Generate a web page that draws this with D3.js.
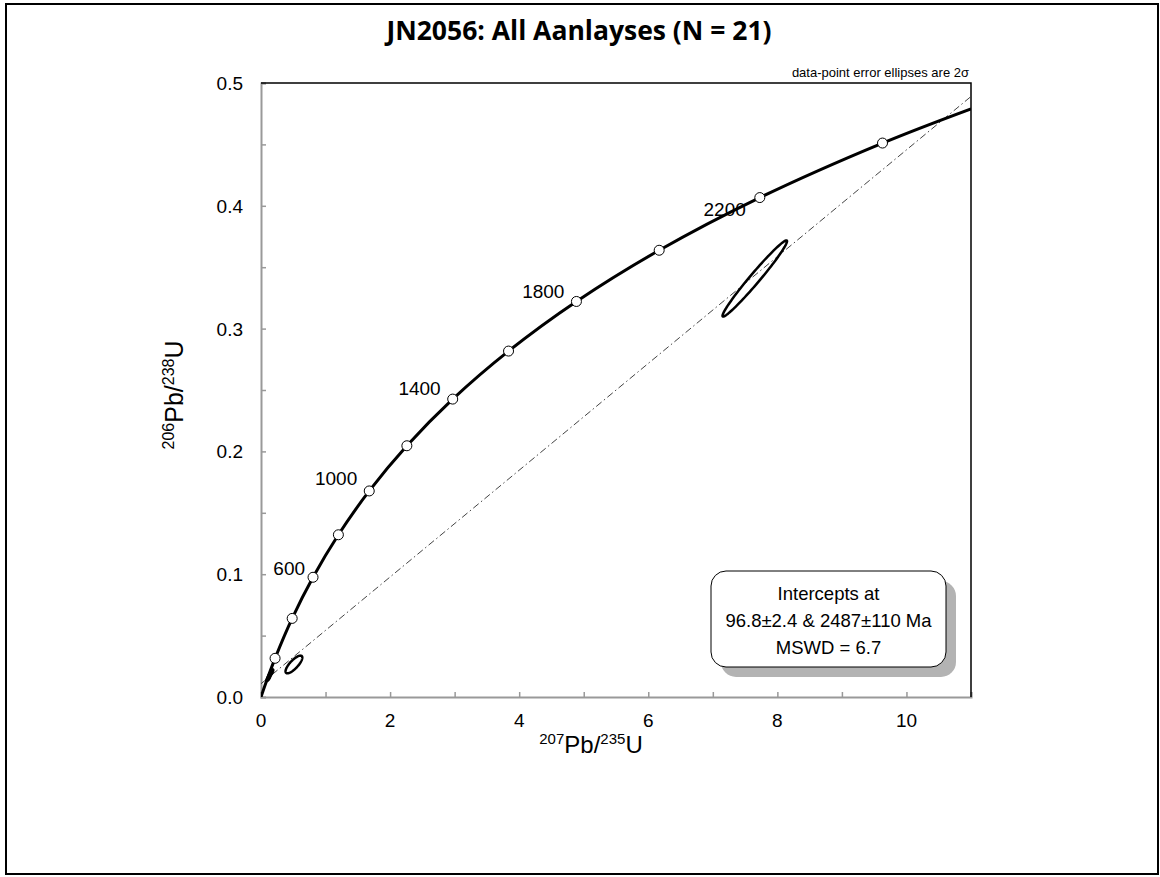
<!DOCTYPE html>
<html>
<head>
<meta charset="utf-8">
<script src="https://cdn.jsdelivr.net/npm/d3@7"></script>
<style>
  body { margin: 0; background: #fff; }
  text { font-family: "Liberation Sans", Arial, sans-serif; }
</style>
</head>
<body>
<div id="chart"></div>
<script>
// Concordia points (age in Ma, 207Pb/235U, 206Pb/238U)
const concordiaAge = [0, 100, 200, 400, 600, 800, 1000, 1200, 1400, 1600, 1800, 2000, 2200, 2400, 2523];
const concordiaX = [0, 0.104, 0.218, 0.483, 0.806, 1.199, 1.677, 2.260, 2.970, 3.835, 4.887, 6.169, 7.728, 9.629, 11.0];
const concordiaY = [0, 0.0156, 0.0315, 0.0640, 0.0975, 0.1321, 0.1678, 0.2046, 0.2426, 0.2817, 0.3221, 0.3638, 0.4067, 0.4511, 0.4790];
const markerAges = [200, 400, 600, 800, 1000, 1200, 1400, 1600, 1800, 2000, 2200, 2400];
const labelAges = [600, 1000, 1400, 1800, 2200];

// Discordia intercepts
const interceptX = [0.1000, 10.581];
const interceptY = [0.01513, 0.4708];

// Error ellipses (2 sigma)
const ellipseX = [7.65, 0.51, 0.13, 0.16, 0.11, 0.14];
const ellipseY = [0.3408, 0.0265, 0.0170, 0.0200, 0.0150, 0.0185];
const ellipseSx = [0.50, 0.13, 0.03, 0.03, 0.025, 0.02];
const ellipseSy = [0.031, 0.0072, 0.0030, 0.0025, 0.0020, 0.0020];
const ellipseRho = [0.98, 0.78, 0.80, 0.75, 0.70, 0.70];

const xTicks = [0, 1, 2, 3, 4, 5, 6, 7, 8, 9, 10, 11];
const xLabels = [0, 2, 4, 6, 8, 10];
const yTicks = [0, 0.05, 0.1, 0.15, 0.2, 0.25, 0.3, 0.35, 0.4, 0.45, 0.5];
const yLabels = [0, 0.1, 0.2, 0.3, 0.4, 0.5];

const W = 1160, H = 877;
const plot = { left: 261, right: 971, top: 83, bottom: 697 };

const svg = d3.select("#chart")
    .append("svg")
    .attr("width", W)
    .attr("height", H);

// outer frame
svg.append("rect")
    .attr("x", 6).attr("y", 4)
    .attr("width", 1152).attr("height", 870)
    .attr("fill", "#fff")
    .attr("stroke", "#000")
    .attr("stroke-width", 2);

const x = d3.scaleLinear().domain([0, 11]).range([plot.left, plot.right]);
const y = d3.scaleLinear().domain([0, 0.5]).range([plot.bottom, plot.top]);

svg.append("defs").append("clipPath")
    .attr("id", "clip")
    .append("rect")
    .attr("x", plot.left).attr("y", plot.top)
    .attr("width", plot.right - plot.left)
    .attr("height", plot.bottom - plot.top);

// title
svg.append("text")
    .attr("x", 579).attr("y", 40)
    .attr("text-anchor", "middle")
    .style("font-family", "'Open Sans', sans-serif")
    .style("font-weight", "bold")
    .style("font-size", "26.5px")
    .text("JN2056: All Aanlayses (N = 21)");

svg.append("text")
    .attr("x", plot.right - 2).attr("y", 77)
    .attr("text-anchor", "end")
    .style("font-size", "13px")
    .text("data-point error ellipses are 2σ");

// axes (ticks inward, grey)
const xAxis = svg.append("g")
    .attr("transform", `translate(0,${plot.bottom})`)
    .call(d3.axisTop(x).tickValues(xTicks).tickSize(5).tickFormat(""));
const yAxis = svg.append("g")
    .attr("transform", `translate(${plot.left},0)`)
    .call(d3.axisRight(y).tickValues(yTicks).tickSize(5).tickFormat(""));
[xAxis, yAxis].forEach(g => {
    g.select(".domain").attr("stroke", "#999").attr("stroke-width", 2);
    g.selectAll(".tick line").attr("stroke", "#999").attr("stroke-width", 1.5);
});

// top and right border
svg.append("path")
    .attr("d", `M${plot.left},${plot.top}H${plot.right}V${plot.bottom}`)
    .attr("fill", "none")
    .attr("stroke", "#000")
    .attr("stroke-width", 1.5);

svg.selectAll(".xlab")
    .data(xLabels)
    .join("text")
    .attr("x", d => x(d))
    .attr("y", 727)
    .attr("text-anchor", "middle")
    .style("font-size", "19px")
    .text(d => d);

svg.selectAll(".ylab")
    .data(yLabels)
    .join("text")
    .attr("x", 243)
    .attr("y", d => y(d) + 7)
    .attr("text-anchor", "end")
    .style("font-size", "19px")
    .text(d => d.toFixed(1));

// axis titles
const xt = svg.append("text")
    .attr("x", 591).attr("y", 753)
    .attr("text-anchor", "middle")
    .style("font-size", "24px");
xt.append("tspan").attr("baseline-shift", "9").style("font-size", "15px").text("207");
xt.append("tspan").text("Pb/");
xt.append("tspan").attr("baseline-shift", "9").style("font-size", "15px").text("235");
xt.append("tspan").text("U");

const yt = svg.append("text")
    .attr("transform", "translate(183,395) rotate(-90)")
    .attr("text-anchor", "middle")
    .style("font-size", "25px");
yt.append("tspan").attr("baseline-shift", "9").style("font-size", "16px").text("206");
yt.append("tspan").text("Pb/");
yt.append("tspan").attr("baseline-shift", "9").style("font-size", "16px").text("238");
yt.append("tspan").text("U");

const gPlot = svg.append("g").attr("clip-path", "url(#clip)");

// discordia line, extended across the plot
const slope = (interceptY[1] - interceptY[0]) / (interceptX[1] - interceptX[0]);
const yAt = v => interceptY[0] + slope * (v - interceptX[0]);
gPlot.append("line")
    .attr("x1", x(0)).attr("y1", y(yAt(0)))
    .attr("x2", x(11)).attr("y2", y(yAt(11)))
    .attr("stroke", "#444")
    .attr("stroke-width", 1)
    .attr("stroke-dasharray", "7,3,1.5,3");

// concordia curve
const concordia = concordiaAge.map((a, i) => ({ age: a, x: concordiaX[i], y: concordiaY[i] }));
gPlot.append("path")
    .datum(concordia)
    .attr("fill", "none")
    .attr("stroke", "#000")
    .attr("stroke-width", 3)
    .attr("d", d3.line().x(d => x(d.x)).y(d => y(d.y)).curve(d3.curveCatmullRom.alpha(0.5)));

// error ellipses
const ellipseLine = d3.line().x(d => x(d[0])).y(d => y(d[1])).curve(d3.curveLinearClosed);
ellipseX.forEach((cx, i) => {
    const sx = ellipseSx[i], sy = ellipseSy[i], r = ellipseRho[i];
    const pts = d3.range(0, 2 * Math.PI, Math.PI / 60).map(t => [
        cx + sx * Math.cos(t),
        ellipseY[i] + sy * (r * Math.cos(t) + Math.sqrt(1 - r * r) * Math.sin(t))
    ]);
    gPlot.append("path")
        .attr("d", ellipseLine(pts))
        .attr("fill", "none")
        .attr("stroke", "#000")
        .attr("stroke-width", 2.5);
});

// age markers
const markers = concordia.filter(d => markerAges.includes(d.age));
svg.selectAll(".marker")
    .data(markers)
    .join("circle")
    .attr("cx", d => x(d.x))
    .attr("cy", d => y(d.y))
    .attr("r", 5)
    .attr("fill", "#fff")
    .attr("stroke", "#000")
    .attr("stroke-width", 1);

const labelOffset = { 600: [-8, -2], 1000: [-12, -6], 1400: [-12, -4], 1800: [-12, -3], 2200: [-14, 18] };
svg.selectAll(".agelab")
    .data(concordia.filter(d => labelAges.includes(d.age)))
    .join("text")
    .attr("x", d => x(d.x) + labelOffset[d.age][0])
    .attr("y", d => y(d.y) + labelOffset[d.age][1])
    .attr("text-anchor", "end")
    .style("font-size", "19px")
    .text(d => d.age);

// intercept box
const box = { x: 711, y: 571, w: 235, h: 96 };
svg.append("rect")
    .attr("x", box.x + 10).attr("y", box.y + 10)
    .attr("width", box.w).attr("height", box.h)
    .attr("rx", 15)
    .attr("fill", "#b3b3b3");
svg.append("rect")
    .attr("x", box.x).attr("y", box.y)
    .attr("width", box.w).attr("height", box.h)
    .attr("rx", 15)
    .attr("fill", "#fff")
    .attr("stroke", "#000")
    .attr("stroke-width", 1);
["Intercepts at", "96.8±2.4 & 2487±110 Ma", "MSWD = 6.7"].forEach((t, i) => {
    svg.append("text")
        .attr("x", box.x + box.w / 2)
        .attr("y", 600 + i * 27)
        .attr("text-anchor", "middle")
        .style("font-size", "18.5px")
        .text(t);
});
</script>
</body>
</html>
